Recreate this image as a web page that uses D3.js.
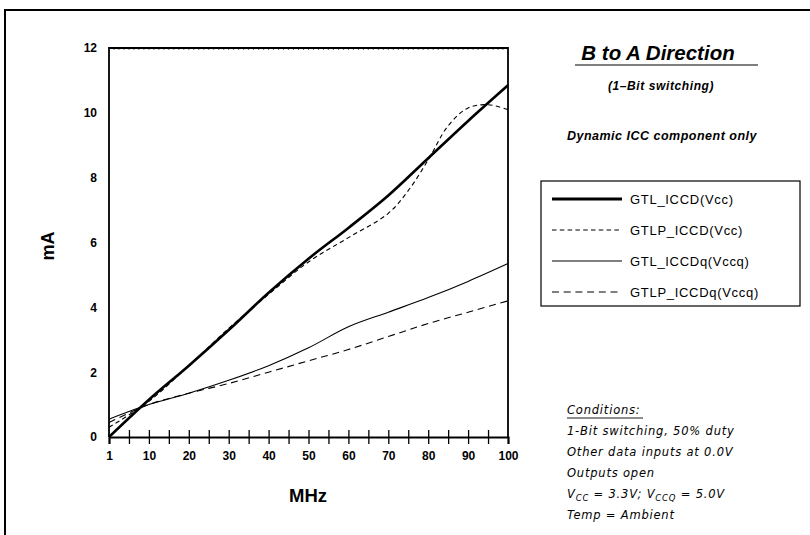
<!DOCTYPE html>
<html>
<head>
<meta charset="utf-8">
<script src="https://cdn.jsdelivr.net/npm/d3@7"></script>
<style>
  body { margin: 0; background: #fff; }
  svg { display: block; font-family: "Liberation Sans", Arial, sans-serif; }
</style>
</head>
<body>
<div id="chart"></div>
<script>
// frequency points (MHz) and current readings (mA) per series
var freq = [1, 10, 20, 30, 40, 50, 60, 70, 80, 90, 100];
var gtlIccd   = [0, 1.15, 2.2, 3.3, 4.45, 5.5, 6.45, 7.45, 8.6, 9.75, 10.85];
var gtlpFreq  = [1, 10, 20, 30, 40, 50, 60, 70, 75, 80, 85, 90, 95, 100];
var gtlpIccd  = [0.3, 1.1, 2.2, 3.35, 4.4, 5.4, 6.15, 6.9, 7.6, 8.55, 9.6, 10.15, 10.25, 10.1];
var gtlIccdq  = [0.55, 1.0, 1.35, 1.75, 2.2, 2.75, 3.4, 3.85, 4.3, 4.8, 5.35];
var gtlpIccdq = [0.45, 1.0, 1.35, 1.65, 2.0, 2.35, 2.7, 3.1, 3.5, 3.85, 4.2];

var xTickValues = [1, 10, 20, 30, 40, 50, 60, 70, 80, 90, 100];
var yTickValues = [0, 2, 4, 6, 8, 10, 12];

var legendLabels = ["GTL_ICCD(Vcc)", "GTLP_ICCD(Vcc)", "GTL_ICCDq(Vccq)", "GTLP_ICCDq(Vccq)"];

var series = [
  {name: legendLabels[0], x: freq, y: gtlIccd, width: 2.6, dash: null},
  {name: legendLabels[1], x: gtlpFreq, y: gtlpIccd, width: 1.1, dash: "4.5,3.3"},
  {name: legendLabels[2], x: freq, y: gtlIccdq, width: 1.1, dash: null},
  {name: legendLabels[3], x: freq, y: gtlpIccdq, width: 1.1, dash: "7,4.7"}
];

var W = 810, H = 535;
var margin = {top: 48, left: 109, right: 302, bottom: 98};
var width = W - margin.left - margin.right,
    height = H - margin.top - margin.bottom;

var svg = d3.select("#chart").append("svg")
    .attr("width", W)
    .attr("height", H);

// outer frame
svg.append("rect")
    .attr("x", 5).attr("y", 10)
    .attr("width", 820).attr("height", 540)
    .attr("fill", "none").attr("stroke", "#000").attr("stroke-width", 2);

var g = svg.append("g")
    .attr("transform", "translate(" + margin.left + "," + margin.top + ")");

// the "1" sits at the origin, then 10..100 are evenly spaced
var x = d3.scaleLinear().domain([1, 10, 100]).range([0, width * 0.1, width]);
var y = d3.scaleLinear().domain([0, 12]).range([height, 0]);

// plot box (left, top, right)
g.append("path")
    .attr("d", "M0," + height + "V0H" + width + "V" + height)
    .attr("fill", "none").attr("stroke", "#000").attr("stroke-width", 1.8);

// fine ticks along top edge
g.selectAll(".topTick")
    .data(d3.range(1, 80))
  .enter().append("line")
    .attr("x1", function(d) { return d * width / 80; })
    .attr("x2", function(d) { return d * width / 80; })
    .attr("y1", 0).attr("y2", 2)
    .attr("stroke", "#000").attr("stroke-width", 0.6);

// x axis: ticks every 20px crossing the axis line
var xTicks = d3.range(1, 20).map(function(i) { return x.invert(i * width / 20); });
var xAxis = g.append("g")
    .attr("transform", "translate(0," + height + ")")
    .call(d3.axisBottom(x).tickValues(xTicks).tickSize(7).tickFormat(""));
xAxis.select(".domain").attr("stroke-width", 2.2);
xAxis.selectAll(".tick line").attr("y1", -7).attr("stroke-width", 1.3);

var xLabels = g.append("g")
    .attr("transform", "translate(0," + height + ")")
    .call(d3.axisBottom(x).tickValues(xTickValues).tickSize(0).tickPadding(14).tickFormat(d3.format("d")));
xLabels.select(".domain").remove();
xLabels.selectAll("text")
    .attr("font-size", 12).attr("font-weight", "bold").attr("fill", "#000")
    .attr("font-family", "Liberation Sans, Arial, sans-serif");

var yAxis = g.append("g")
    .call(d3.axisLeft(y).tickValues(yTickValues).tickSize(0).tickPadding(12));
yAxis.select(".domain").remove();
yAxis.selectAll("text")
    .attr("font-size", 12).attr("font-weight", "bold").attr("fill", "#000")
    .attr("font-family", "Liberation Sans, Arial, sans-serif");

// axis titles
svg.append("text")
    .attr("x", 308).attr("y", 502)
    .attr("text-anchor", "middle")
    .attr("font-size", 18.5).attr("font-weight", "bold")
    .text("MHz");

svg.append("text")
    .attr("transform", "translate(54,246) rotate(-90)")
    .attr("text-anchor", "middle")
    .attr("font-size", 18).attr("font-weight", "bold")
    .text("mA");

// curves
var line = d3.line()
    .x(function(d) { return x(d[0]); })
    .y(function(d) { return y(d[1]); })
    .curve(d3.curveCatmullRom.alpha(0.5));

g.selectAll(".series")
    .data(series)
  .enter().append("path")
    .attr("class", "series")
    .attr("d", function(s) { return line(s.x.map(function(v, i) { return [v, s.y[i]]; })); })
    .attr("fill", "none")
    .attr("stroke", "#000")
    .attr("stroke-width", function(s) { return s.width; })
    .attr("stroke-dasharray", function(s) { return s.dash; });

// title block
svg.append("text")
    .attr("x", 658).attr("y", 60)
    .attr("text-anchor", "middle")
    .attr("font-size", 20.5).attr("font-weight", "bold").attr("font-style", "italic")
    .text("B to A Direction");
svg.append("line")
    .attr("x1", 575).attr("x2", 758).attr("y1", 65).attr("y2", 65)
    .attr("stroke", "#000").attr("stroke-width", 1.2);
svg.append("text")
    .attr("x", 661).attr("y", 90)
    .attr("text-anchor", "middle")
    .attr("font-size", 12).attr("font-weight", "bold").attr("font-style", "italic")
    .attr("letter-spacing", 0.6)
    .text("(1\u2013Bit switching)");
svg.append("text")
    .attr("x", 662).attr("y", 140)
    .attr("text-anchor", "middle")
    .attr("font-size", 12.5).attr("font-weight", "bold").attr("font-style", "italic")
    .attr("letter-spacing", 0.5)
    .text("Dynamic ICC component only");

// legend
var legend = svg.append("g").attr("transform", "translate(541,181)");
legend.append("rect")
    .attr("width", 259).attr("height", 125)
    .attr("fill", "#fff").attr("stroke", "#000").attr("stroke-width", 1.2);
var item = legend.selectAll(".item")
    .data(series)
  .enter().append("g")
    .attr("transform", function(d, i) { return "translate(0," + (18 + i * 31) + ")"; });
item.append("line")
    .attr("x1", 11).attr("x2", 81)
    .attr("stroke", "#000")
    .attr("stroke-width", function(s) { return s.width === 2.6 ? 3 : 1.1; })
    .attr("stroke-dasharray", function(s) { return s.dash; });
item.append("text")
    .attr("x", 89).attr("dy", "0.35em")
    .attr("font-size", 13).attr("letter-spacing", 0.7)
    .text(function(s) { return s.name; });

// conditions note
var cond = svg.append("g")
    .attr("font-family", "DejaVu Sans, sans-serif")
    .attr("font-style", "italic")
    .attr("font-size", 11.5)
    .attr("letter-spacing", 0.8);
var condLines = ["1-Bit switching, 50% duty", "Other data inputs at 0.0V", "Outputs open"];
cond.append("text").attr("x", 567).attr("y", 414).text("Conditions:");
cond.append("line").attr("x1", 567).attr("x2", 643).attr("y1", 418).attr("y2", 418)
    .attr("stroke", "#000").attr("stroke-width", 0.9);
cond.selectAll(".cl")
    .data(condLines)
  .enter().append("text")
    .attr("x", 567)
    .attr("y", function(d, i) { return 435 + i * 21; })
    .text(function(d) { return d; });
var v = cond.append("text").attr("x", 567).attr("y", 498);
v.append("tspan").text("V");
v.append("tspan").attr("font-size", 8.5).attr("dy", 3).text("CC");
v.append("tspan").attr("dy", -3).text(" = 3.3V; V");
v.append("tspan").attr("font-size", 8.5).attr("dy", 3).text("CCQ");
v.append("tspan").attr("dy", -3).text(" = 5.0V");
cond.append("text").attr("x", 567).attr("y", 519).text("Temp = Ambient");
</script>
</body>
</html>
